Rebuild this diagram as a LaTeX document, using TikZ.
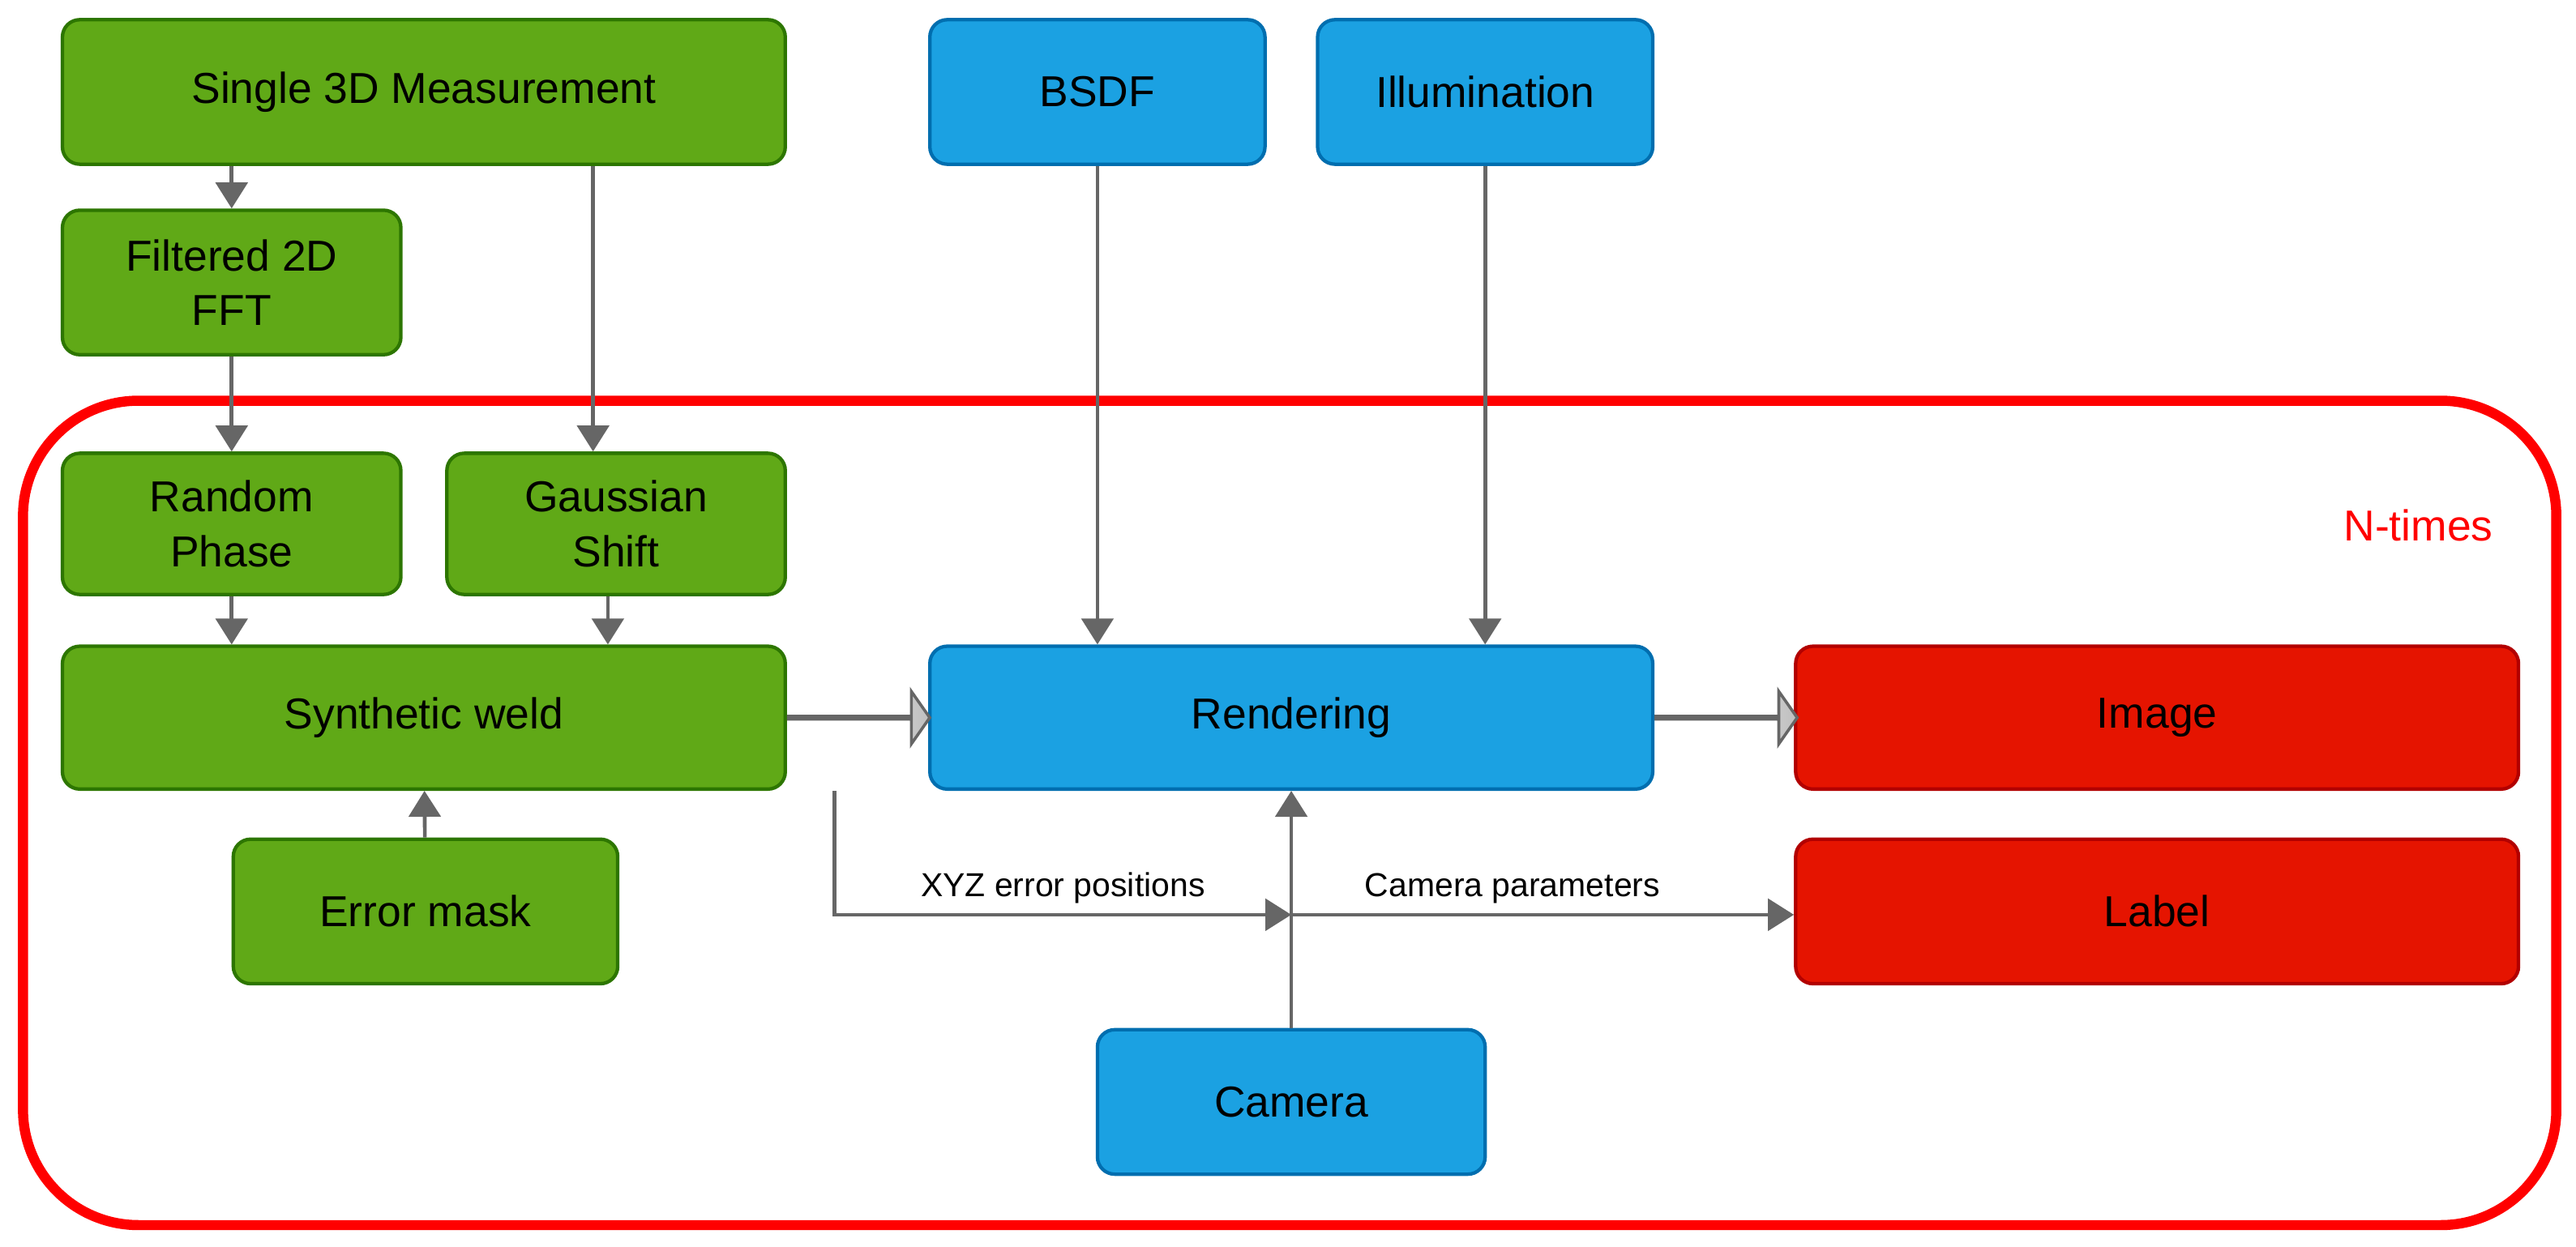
\documentclass[tikz,border=0pt]{standalone}
\usepackage{fontspec}
\setmainfont{Liberation Sans}
\usetikzlibrary{shapes.arrows,arrows.meta}
\definecolor{gfill}{HTML}{60A917}\definecolor{gdraw}{HTML}{2D7600}
\definecolor{bfill}{HTML}{1BA1E2}\definecolor{bdraw}{HTML}{006EAF}
\definecolor{rfill}{HTML}{E51400}\definecolor{rdraw}{HTML}{B20000}
\definecolor{ar}{HTML}{666666}
\begin{document}
\begin{tikzpicture}[x=0.02cm,y=-0.02cm,
 box/.style={rounded corners=6pt,line width=1.2pt,inner sep=0pt,font=\fontsize{15}{19}\selectfont,align=center},
 g/.style={box,fill=gfill,draw=gdraw},
 b/.style={box,fill=bfill,draw=bdraw},
 r/.style={box,fill=rfill,draw=rdraw},
 a/.style={draw=ar,line width=1.3pt,-{Triangle[length=9pt,width=11pt]}},
 big/.style={single arrow,draw=ar,line width=1pt,left color=white,right color=gray!50,minimum height=86*0.02cm,minimum width=32*0.02cm,single arrow head extend=8pt,inner sep=0pt,single arrow tip angle=110}]
\useasboundingbox (0,0) rectangle (1568,759);
\draw[red,line width=3.5pt,rounded corners=40pt] (14,244) rectangle (1556,746);
\node[red,font=\fontsize{15}{19}\selectfont] at (1472,320) {N-times};
\newcommand\bx[6]{\node[#1,minimum width=(#4-#3)*0.02cm,minimum height=(#6-#5)*0.02cm] (#2) at ({(#3+#4)/2},{(#5+#6)/2}) {};}
\node[g,minimum width=440*0.02cm,minimum height=88*0.02cm] (sm) at (258,56) {Single 3D Measurement};
\node[g,minimum width=206*0.02cm,minimum height=88*0.02cm] (ff) at (141,172) {Filtered 2D\\FFT};
\node[g,minimum width=206*0.02cm,minimum height=86*0.02cm] (rp) at (141,319) {Random\\Phase};
\node[g,minimum width=206*0.02cm,minimum height=86*0.02cm] (gs) at (375,319) {Gaussian\\Shift};
\node[g,minimum width=440*0.02cm,minimum height=87*0.02cm] (sw) at (258,437) {Synthetic weld};
\node[g,minimum width=234*0.02cm,minimum height=88*0.02cm] (em) at (259,555) {Error mask};
\node[b,minimum width=204*0.02cm,minimum height=88*0.02cm] (bs) at (668,56) {BSDF};
\node[b,minimum width=204*0.02cm,minimum height=88*0.02cm] (il) at (904,56) {Illumination};
\node[b,minimum width=440*0.02cm,minimum height=87*0.02cm] (re) at (786,437) {Rendering};
\node[r,minimum width=440*0.02cm,minimum height=87*0.02cm] (im) at (1313,437) {Image};
\node[r,minimum width=440*0.02cm,minimum height=88*0.02cm] (la) at (1313,555) {Label};
\node[b,minimum width=236*0.02cm,minimum height=88*0.02cm] (ca) at (786,671) {Camera};
\draw[a] (sm.south -| ff) -- (ff);
\draw[a] (sm.south -| 361,0) -- (gs.north -| 361,0);
\draw[a] (ff) -- (rp);
\draw[a] (rp) -- (rp|-sw.north);
\draw[a] (gs.south -| 370,0) -- (sw.north -| 370,0);
\draw[a] (em) -- (sw);
\draw[a] (bs) -- (bs|-re.north);
\draw[a] (il) -- (il|-re.north);
\draw[a] (ca) -- (re);
\coordinate (j) at (786,557);
\draw[a] (sw.south -| 508,0) |- node[pos=0.75,above,font=\fontsize{11.5}{14}\selectfont]{XYZ error positions} (j);
\draw[a] (j) -- node[pos=0.44,above,font=\fontsize{11.5}{14}\selectfont]{Camera parameters} (la.west|-j);
\node[big,anchor=tail] at (sw.east) {};
\node[big,anchor=tail] at (re.east) {};
\end{tikzpicture}
\end{document}
